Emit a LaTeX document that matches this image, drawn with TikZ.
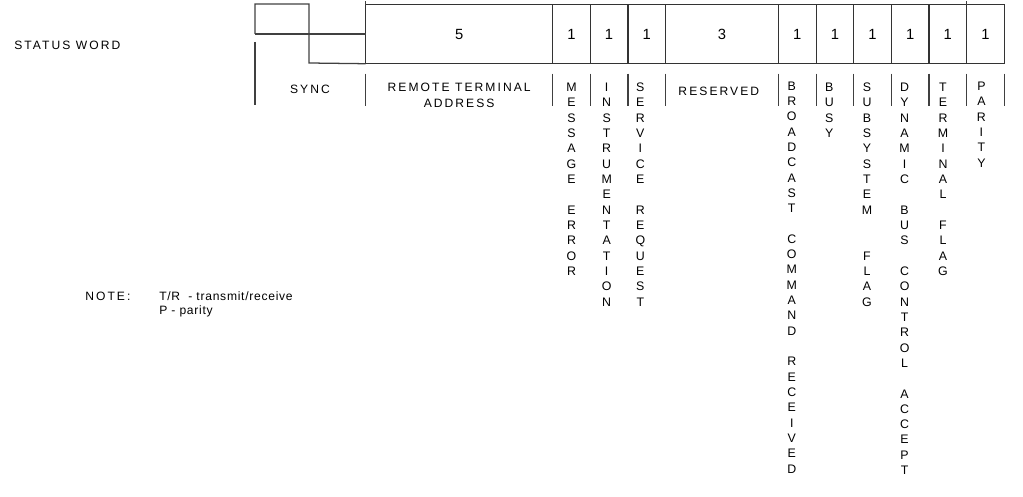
\documentclass[tikz,border=0pt]{standalone}
\usepackage{fontspec}
\setmainfont{Liberation Sans}
\newfontfamily\spacedfont[LetterSpace=17]{Liberation Sans}
\newfontfamily\notefont[LetterSpace=6]{Liberation Sans}
\usepackage{tikz}
\usetikzlibrary{matrix,positioning,calc}

\begin{document}
\begin{tikzpicture}[x=0.025cm, y=-0.025cm,
font=\fontsize{8.8}{10.9}\selectfont,
word/.style={matrix of nodes, column sep=-0.9pt, inner sep=0pt, outer sep=0pt,
nodes={draw=black!80, line width=0.9pt, minimum height=1.475cm, minimum width=0.94cm, inner sep=0pt, font=\fontsize{10.5}{12}\selectfont},
column 1/.style={nodes={minimum width=4.675cm}},
column 5/.style={nodes={minimum width=2.825cm}}},
vlabel/.style={anchor=north, align=center, inner sep=0pt},
caps/.style={inner sep=0pt, font=\spacedfont\fontsize{8.6}{11.4}\selectfont},
tick/.style={draw=black!75, line width=0.9pt}]

    \useasboundingbox (0,0) rectangle (1023,497);

    \matrix[word, anchor=north west] (word) at (365,4) {
        5 & 1 & 1 & 1 & 3 & 1 & 1 & 1 & 1 & 1 & 1\\};

    % sync pattern
    \draw[tick] (255,34) -- (255,4) -- (309,4) -- (309,63) -- (word-1-1.south west);
    \draw[tick] (255,34) -- (word-1-1.west |- 0,34);
    \draw[tick] (word-1-1.north west) -- ++(0,-4);
    \draw[tick] (word-1-11.north west) -- ++(0,-4);

    % field separators
    \draw[tick] (255,42) -- (255,105);
    \foreach \c in {1,...,11}
        \draw[tick] ([yshift=-0.25cm]word-1-\c.south west) -- ++(0,32);
    \draw[tick] ([yshift=-0.25cm]word-1-11.south east) -- ++(0,32);

    \node[caps, anchor=west] (status) at (14,45) {STATUS WORD};
    \node[caps] (sync) at (310,89) {SYNC};
    \node[caps, align=center, anchor=north] (rta) at ([yshift=-0.48cm]word-1-1.south) {REMOTE TERMINAL\\ADDRESS};
    \node[caps] (res) at ([yshift=-0.7cm, xshift=-0.08cm]word-1-5.south) {RESERVED};

    \node[vlabel] (me) at ([yshift=-0.475cm]word-1-2.south) {M\\E\\S\\S\\A\\G\\E\\~\\E\\R\\R\\O\\R};
    \node[vlabel] (instr) at ([yshift=-0.475cm, xshift=-0.06cm]word-1-3.south) {I\\N\\S\\T\\R\\U\\M\\E\\N\\T\\A\\T\\I\\O\\N};
    \node[vlabel] (sr) at ([yshift=-0.475cm, xshift=-0.16cm]word-1-4.south) {S\\E\\R\\V\\I\\C\\E\\~\\R\\E\\Q\\U\\E\\S\\T};
    \node[vlabel] (bcr) at ([yshift=-0.44cm, xshift=-0.14cm]word-1-6.south) {B\\R\\O\\A\\D\\C\\A\\S\\T\\~\\C\\O\\M\\M\\A\\N\\D\\~\\R\\E\\C\\E\\I\\V\\E\\D};
    \node[vlabel] (busy) at ([yshift=-0.475cm, xshift=-0.14cm]word-1-7.south) {B\\U\\S\\Y};
    \node[vlabel] (ssf) at ([yshift=-0.475cm, xshift=-0.14cm]word-1-8.south) {S\\U\\B\\S\\Y\\S\\T\\E\\M\\~\\~\\F\\L\\A\\G};
    \node[vlabel] (dbc) at ([yshift=-0.475cm, xshift=-0.14cm]word-1-9.south) {D\\Y\\N\\A\\M\\I\\C\\~\\B\\U\\S\\~\\C\\O\\N\\T\\R\\O\\L\\~\\A\\C\\C\\E\\P\\T};
    \node[vlabel] (tf) at ([yshift=-0.475cm, xshift=-0.12cm]word-1-10.south) {T\\E\\R\\M\\I\\N\\A\\L\\~\\F\\L\\A\\G};
    \node[vlabel] (par) at ([yshift=-0.45cm, xshift=-0.1cm]word-1-11.south) {P\\A\\R\\I\\T\\Y};

    \node[caps, anchor=west] (note) at (85,296) {NOTE:};
    \node[anchor=west, inner sep=0pt, font=\notefont\fontsize{8.6}{10}\selectfont] (tr) at (159,296) {T/R~ - transmit/receive};
    \node[anchor=west, inner sep=0pt, font=\notefont\fontsize{8.6}{10}\selectfont] (p) at (159,311) {P - parity};
\end{tikzpicture}
\end{document}
